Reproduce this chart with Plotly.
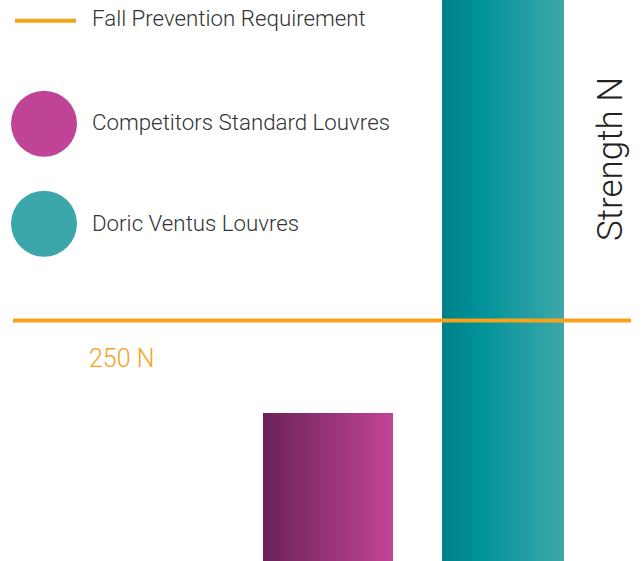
import plotly.graph_objects as go

# ---- data ----
categories = ["Competitors Standard Louvres", "Doric Ventus Louvres"]
strength_n = [154, 620]
requirement_n = 250
requirement_label = "250 N"
legend_labels = ["Fall Prevention Requirement", "Competitors Standard Louvres", "Doric Ventus Louvres"]
axis_title = "Strength N"

# ---- styles ----
W, H = 644, 561
ORANGE = "#F7A21B"
TEXT = "#333333"
grad_stops = [
    [(0.0, (0x6B, 0x22, 0x57)), (1.0, (0xC2, 0x44, 0x97))],
    [(0.0, (0x00, 0x7F, 0x8A)), (0.3, (0x00, 0x91, 0x99)), (1.0, (0x3D, 0xA8, 0xAA))],
]
bar_widths = [0.746, 0.70]
FONT = "Roboto"


def grad_color(stops, t):
    for (t0, c0), (t1, c1) in zip(stops[:-1], stops[1:]):
        if t0 <= t <= t1:
            f = (t - t0) / (t1 - t0)
            c = [round(a + (b - a) * f) for a, b in zip(c0, c1)]
            return "rgb(%d,%d,%d)" % tuple(c)
    c = stops[-1][1]
    return "rgb(%d,%d,%d)" % c


fig = go.Figure()
N = 60
for i in range(N):
    t = (i + 0.5) / N
    fig.add_trace(go.Bar(
        x=categories,
        y=strength_n,
        width=[w / N * 1.08 for w in bar_widths],
        offset=[-w / 2 + i * w / N for w in bar_widths],
        marker=dict(color=[grad_color(s, t) for s in grad_stops], line=dict(width=0)),
        showlegend=False,
        hoverinfo="skip",
    ))

# requirement line
fig.add_shape(type="line", xref="paper", yref="y", x0=13 / W, x1=631 / W,
              y0=requirement_n, y1=requirement_n,
              line=dict(color=ORANGE, width=4), layer="above")
fig.add_annotation(text=requirement_label, xref="paper", yref="y", x=87 / W, y=requirement_n,
                   yshift=-38, xanchor="left", yanchor="middle", showarrow=False,
                   font=dict(family=FONT, size=25, color=ORANGE, weight=300))

# custom legend
fig.add_shape(type="line", xref="paper", yref="paper", x0=15 / W, x1=76 / W,
              y0=1 - 20.7 / H, y1=1 - 20.7 / H, line=dict(color=ORANGE, width=4))
circle_cols = ["#BF4496", "#3BA7AA"]
circle_cy = [123.7, 223.7]
for col, cy in zip(circle_cols, circle_cy):
    fig.add_shape(type="circle", xref="paper", yref="paper",
                  x0=11 / W, x1=77 / W, y0=1 - (cy + 33) / H, y1=1 - (cy - 33) / H,
                  fillcolor=col, line=dict(width=0))
label_cy = [18.5, 121.7, 223.3]
for lab, cy in zip(legend_labels, label_cy):
    fig.add_annotation(text=lab, xref="paper", yref="paper", x=90 / W, y=1 - cy / H,
                       xanchor="left", yanchor="middle", showarrow=False,
                       font=dict(family=FONT, size=22.3, color=TEXT, weight=300))

fig.add_annotation(text=axis_title, xref="paper", yref="paper", x=610 / W, y=1 - 159 / H,
                   xanchor="center", yanchor="middle", textangle=-90, showarrow=False,
                   font=dict(family=FONT, size=35, color="#222222", weight=300))

fig.update_layout(
    width=W, height=H, margin=dict(l=0, r=0, t=0, b=0),
    barmode="overlay", bargap=0,
    paper_bgcolor="white", plot_bgcolor="white",
    xaxis=dict(type="category", range=[-1.8743, 1.8057], visible=False, fixedrange=True),
    yaxis=dict(range=[0, 583.2], visible=False, fixedrange=True),
    showlegend=False,
)

fig.write_html("out.html", config={"displayModeBar": False},
               post_script="document.body.style.margin='0';")
